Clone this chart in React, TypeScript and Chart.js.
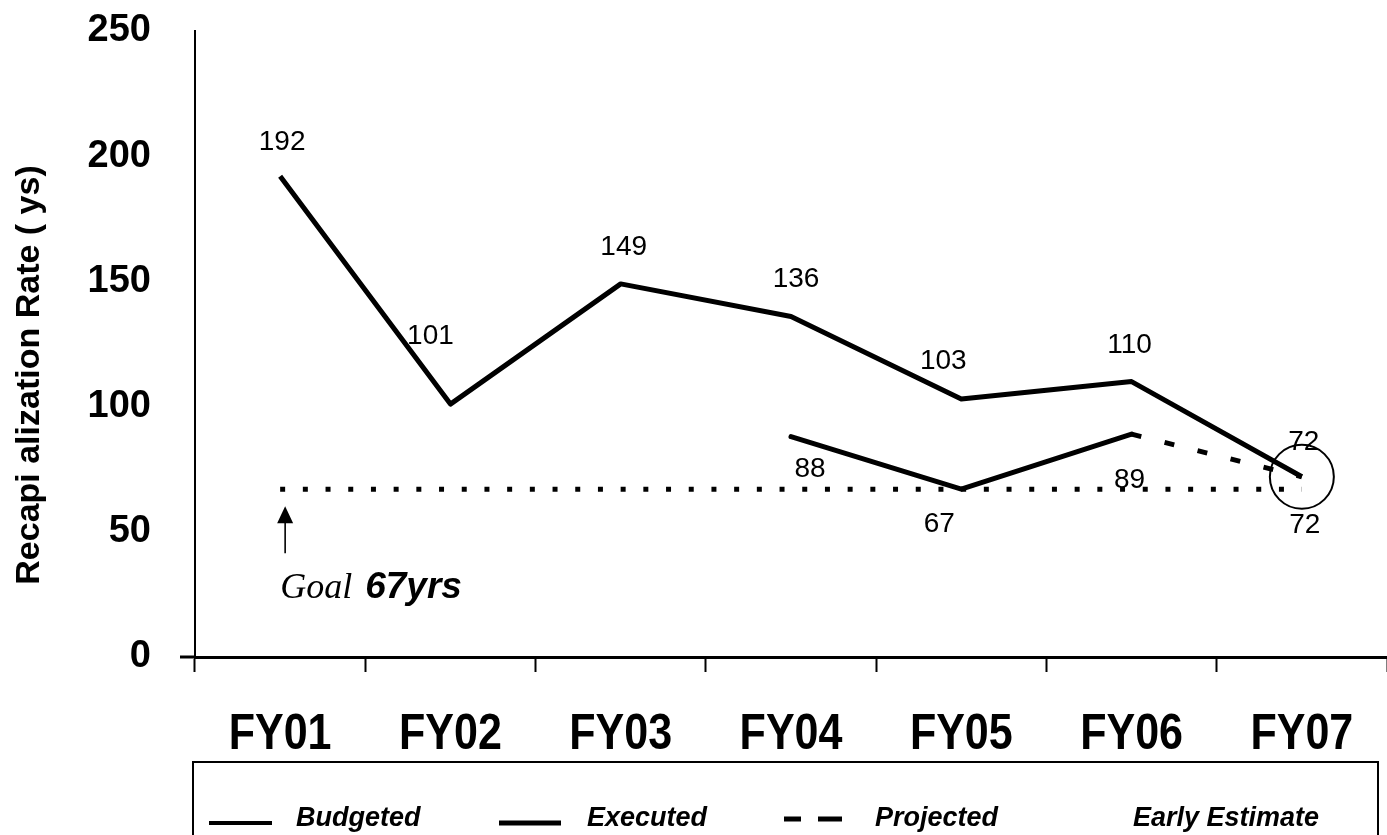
import React, { useEffect, useRef } from 'react';
import { Chart, registerables } from 'chart.js';

Chart.register(...registerables);

// ---- data ----
const categories = ['FY01', 'FY02', 'FY03', 'FY04', 'FY05', 'FY06', 'FY07'];
const budgeted = [192, 101, 149, 136, 103, 110, 72];
const executed = [null, null, null, 88, 67, 89, null];
const projected = [null, null, null, null, null, 89, 72];
const goal = [67, 67, 67, 67, 67, 67, 67];
const earlyEstimate = [null, null, null, null, null, null, 72];
const yTicks = [0, 50, 100, 150, 200, 250];
const legendLabels = ['Budgeted', 'Executed', 'Projected', 'Early Estimate'];
const yTitle = 'Recapi alization Rate ( ys)';
const goalWord = 'Goal ';
const goalValueText = '67yrs';

// label placement offsets (pixels, relative to the point)
const labelOffsets: Record<number, Record<number, [number, number]>> = {
  0: { 0: [2, -34], 1: [-20, -68], 2: [3, -37], 3: [5, -37], 4: [-18, -38], 5: [-2, -36], 6: [2, -34] },
  1: { 3: [19, 33], 4: [-22, 35], 5: [-2, 46] },
  2: { 6: [3, 49] },
};

const W = 1387;
const H = 835;
const SANS = "'Liberation Sans', Arial, Helvetica, sans-serif";
const SERIF = "'Liberation Serif', 'Times New Roman', serif";

const decorPlugin = {
  id: 'decor',
  afterDraw(chart: any) {
    const ctx = chart.ctx;
    const xs = chart.scales.x;
    const ys = chart.scales.y;
    const area = chart.chartArea;
    ctx.save();

    // data labels
    ctx.fillStyle = '#000';
    ctx.font = `28px ${SANS}`;
    ctx.textAlign = 'center';
    ctx.textBaseline = 'middle';
    Object.keys(labelOffsets).forEach((dsKey) => {
      const di = Number(dsKey);
      const meta = chart.getDatasetMeta(di);
      const data = chart.data.datasets[di].data;
      const offs = labelOffsets[di];
      Object.keys(offs).forEach((k) => {
        const i = Number(k);
        const el = meta.data[i];
        const v = data[i];
        if (!el || v == null) return;
        const [dx, dy] = offs[i];
        ctx.fillText(String(v), el.x + dx, el.y + dy);
      });
    });

    // category labels (condensed bold)
    ctx.font = `bold 50px ${SANS}`;
    ctx.textAlign = 'center';
    ctx.textBaseline = 'alphabetic';
    categories.forEach((c, i) => {
      const x = xs.getPixelForValue(i);
      ctx.save();
      ctx.translate(x, 749);
      ctx.scale(0.86, 1);
      ctx.fillText(c, 0, 0);
      ctx.restore();
    });

    // small extension of x axis to the left of the y axis
    ctx.strokeStyle = '#000';
    ctx.lineWidth = 3;
    ctx.beginPath();
    ctx.moveTo(area.left - 15, area.bottom);
    ctx.lineTo(area.left, area.bottom);
    ctx.stroke();

    // goal arrow and text
    const gx = xs.getPixelForValue(0) + 5;
    const gy = ys.getPixelForValue(67);
    const tipY = gy + 17;
    ctx.lineWidth = 1.6;
    ctx.beginPath();
    ctx.moveTo(gx, tipY + 8);
    ctx.lineTo(gx, tipY + 47);
    ctx.stroke();
    ctx.beginPath();
    ctx.moveTo(gx, tipY);
    ctx.lineTo(gx - 8, tipY + 17);
    ctx.lineTo(gx + 8, tipY + 17);
    ctx.closePath();
    ctx.fill();

    ctx.textAlign = 'left';
    ctx.textBaseline = 'alphabetic';
    const tx = gx - 5;
    const tyBase = tipY + 92;
    ctx.font = `italic 36px ${SERIF}`;
    ctx.fillText(goalWord, tx, tyBase);
    const w1 = ctx.measureText(goalWord).width;
    ctx.font = `italic bold 37px ${SANS}`;
    ctx.fillText(goalValueText, tx + w1 + 4, tyBase);

    // y axis title
    ctx.save();
    ctx.translate(30, 375);
    ctx.rotate(-Math.PI / 2);
    ctx.textAlign = 'center';
    ctx.textBaseline = 'middle';
    ctx.font = `bold 34px ${SANS}`;
    ctx.fillText(yTitle, 0, 0);
    ctx.restore();

    // legend box
    const boxL = 193;
    const boxR = 1378;
    const boxT = 762;
    ctx.lineWidth = 2;
    ctx.strokeRect(boxL, boxT, boxR - boxL, H - boxT + 10);
    const base = 826;
    const lineY = 823;
    ctx.font = `italic bold 27px ${SANS}`;
    ctx.textAlign = 'left';
    ctx.textBaseline = 'alphabetic';
    // Budgeted
    ctx.lineWidth = 4;
    ctx.beginPath();
    ctx.moveTo(209, lineY);
    ctx.lineTo(272, lineY);
    ctx.stroke();
    ctx.fillText(legendLabels[0], 296, base);
    // Executed
    ctx.lineWidth = 5;
    ctx.beginPath();
    ctx.moveTo(499, lineY);
    ctx.lineTo(561, lineY);
    ctx.stroke();
    ctx.fillText(legendLabels[1], 587, base);
    // Projected
    ctx.lineWidth = 5;
    ctx.beginPath();
    ctx.moveTo(784, lineY - 4);
    ctx.lineTo(801, lineY - 4);
    ctx.moveTo(818, lineY - 4);
    ctx.lineTo(842, lineY - 4);
    ctx.stroke();
    ctx.fillText(legendLabels[2], 875, base);
    // Early Estimate
    ctx.fillText(legendLabels[3], 1133, base);

    ctx.restore();
  },
};

export default function App() {
  const canvasRef = useRef<HTMLCanvasElement | null>(null);

  useEffect(() => {
    document.body.style.margin = '0';
    const canvas = canvasRef.current;
    if (!canvas) return;
    const chart = new Chart(canvas, {
      type: 'line',
      data: {
        labels: categories,
        datasets: [
          {
            label: legendLabels[0],
            data: budgeted,
            borderColor: '#000',
            borderWidth: 5,
            pointRadius: 0,
            fill: false,
            tension: 0,
            borderJoinStyle: 'round',
          },
          {
            label: legendLabels[1],
            data: executed,
            borderColor: '#000',
            borderWidth: 5,
            pointRadius: 0,
            fill: false,
            tension: 0,
            borderJoinStyle: 'round',
            borderCapStyle: 'round',
          },
          {
            label: legendLabels[2],
            data: projected,
            borderColor: '#000',
            borderWidth: 5,
            borderDash: [10, 24],
            pointRadius: 0,
            fill: false,
            tension: 0,
          },
          {
            label: 'Goal',
            data: goal,
            borderColor: '#000',
            borderWidth: 5,
            borderDash: [5, 17.7],
            pointRadius: 0,
            fill: false,
            tension: 0,
          },
          {
            label: legendLabels[3],
            data: earlyEstimate,
            showLine: false,
            borderColor: '#000',
            pointRadius: 32,
            pointBorderWidth: 2,
            pointBorderColor: '#000',
            pointBackgroundColor: 'rgba(0,0,0,0)',
            fill: false,
            clip: false,
          },
        ],
      },
      options: {
        responsive: false,
        animation: false,
        layout: { autoPadding: false, padding: { top: 31, left: 0, right: 0, bottom: 0 } },
        plugins: {
          legend: { display: false },
          title: { display: false },
          tooltip: { enabled: false },
        },
        scales: {
          x: {
            type: 'category',
            offset: true,
            grid: {
              display: true,
              drawOnChartArea: false,
              drawTicks: true,
              tickLength: 15,
              tickWidth: 2,
              tickColor: '#000',
              color: '#000',
              offset: true,
            },
            border: { display: true, color: '#000', width: 3 },
            ticks: { display: false },
            afterFit: (scale: any) => {
              scale.height = H - 657;
              scale.paddingLeft = 0;
              scale.paddingRight = 0;
            },
          },
          y: {
            min: 0,
            max: 250,
            grid: { display: false, drawTicks: false },
            border: { display: true, color: '#000', width: 2 },
            ticks: {
              color: '#000',
              font: { family: SANS, size: 38, weight: 'bold' },
              padding: 44,
            },
            afterBuildTicks: (scale: any) => {
              scale.ticks = yTicks.map((v) => ({ value: v }));
            },
            afterFit: (scale: any) => {
              scale.width = 195;
              scale.paddingTop = 0;
              scale.paddingBottom = 0;
            },
          },
        },
      },
      plugins: [decorPlugin],
    } as any);
    return () => chart.destroy();
  }, []);

  return (
    <div style={{ position: 'absolute', left: 0, top: 0, width: W, height: H, background: '#fff' }}>
      <canvas ref={canvasRef} width={W} height={H} style={{ display: 'block' }} />
    </div>
  );
}
